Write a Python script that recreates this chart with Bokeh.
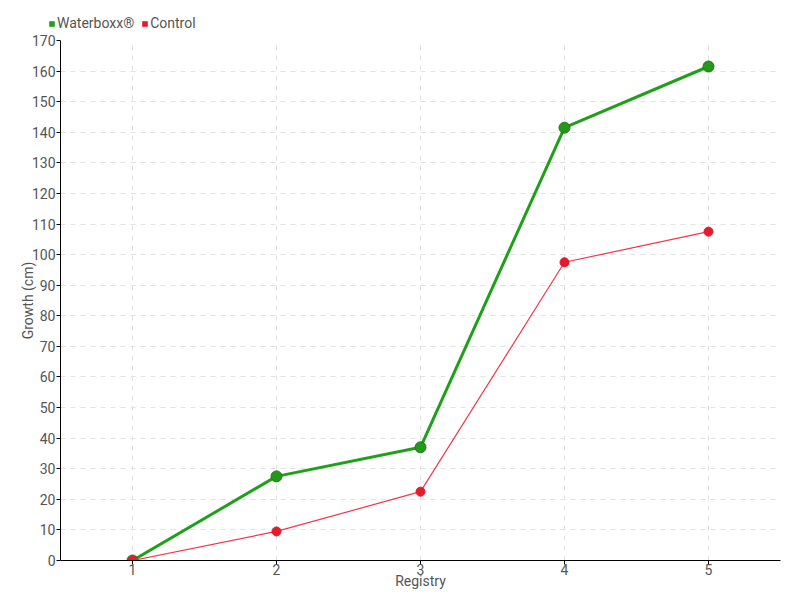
from bokeh.plotting import figure
from bokeh.models import Legend, LegendItem, FixedTicker, Range1d
from bokeh.layouts import column, row
from bokeh.embed import file_html
from bokeh.resources import INLINE

registry = [1, 2, 3, 4, 5]
waterboxx = [0, 27.5, 37, 141.5, 161.5]
control = [0, 9.5, 22.5, 97.5, 107.5]
y_ticks = list(range(0, 171, 10))

FONT = "Roboto"
TXT = "#555555"
GREEN = "#20a01a"
RED = "#e8192c"

# main chart
p = figure(frame_width=720, frame_height=520, output_backend="svg", toolbar_location=None,
           x_range=Range1d(0.5, 5.5), y_range=Range1d(0, 170),
           min_border_left=60, min_border_right=12, min_border_top=6, min_border_bottom=30)
p.outline_line_color = None

p.xgrid.ticker = FixedTicker(ticks=registry)
p.ygrid.ticker = FixedTicker(ticks=y_ticks)
for g in (p.xgrid, p.ygrid):
    g.grid_line_color = "#e2e2e2"
    g.grid_line_dash = "5 5"
    g.grid_line_width = 1

p.line(registry, waterboxx, line_color=GREEN, line_width=3)
p.scatter(registry, waterboxx, size=11, fill_color="#23981c", line_color="#1d7a17", line_width=1)
p.line(registry, control, line_color="#f0384a", line_width=1.2)
p.scatter(registry, control, size=9, fill_color=RED, line_color=RED)

p.xaxis.ticker = FixedTicker(ticks=registry)
p.yaxis.ticker = FixedTicker(ticks=y_ticks)
for ax in (p.xaxis, p.yaxis):
    ax.axis_line_color = "black"
    ax.axis_line_width = 1
    ax.major_tick_line_color = "black"
    ax.major_tick_in = 0
    ax.major_tick_out = 4
    ax.minor_tick_line_color = None
    ax.major_label_text_font = FONT
    ax.major_label_text_font_size = "14px"
    ax.major_label_text_color = TXT
    ax.axis_label_text_font = FONT
    ax.axis_label_text_font_size = "14px"
    ax.axis_label_text_color = TXT
    ax.axis_label_text_font_style = "normal"
    ax.major_label_standoff = 1
    ax.axis_label_standoff = 0

p.yaxis.axis_label_standoff = -7
p.xaxis.major_label_standoff = -1
p.xaxis.axis_label_standoff = -5
p.xaxis.axis_label = "Registry"
p.yaxis.axis_label = "Growth (cm)"

# legend strip
lf = figure(width=792, height=34, output_backend="svg", toolbar_location=None,
            x_range=Range1d(0, 1), y_range=Range1d(0, 1),
            x_axis_type=None, y_axis_type=None, min_border=0)
lf.outline_line_color = None
lf.grid.visible = False
gleg = lf.quad(left=[-10], right=[-9], bottom=[-10], top=[-9], fill_color=GREEN, line_color=None)
rleg = lf.quad(left=[-10], right=[-9], bottom=[-10], top=[-9], fill_color=RED, line_color=None)
legend = Legend(items=[LegendItem(label="Waterboxx®", renderers=[gleg]),
                       LegendItem(label="Control", renderers=[rleg])],
                orientation="horizontal", location=(48, 3),
                border_line_color=None, background_fill_alpha=0,
                label_text_font=FONT, label_text_font_size="14px", label_text_color=TXT,
                glyph_width=7, glyph_height=7, label_standoff=2, spacing=7,
                padding=0, margin=0, label_height=14)
lf.add_layout(legend)

layout = column(row(lf, spacing=0), p, spacing=0)
open("out.html", "w").write(file_html(layout, INLINE))
